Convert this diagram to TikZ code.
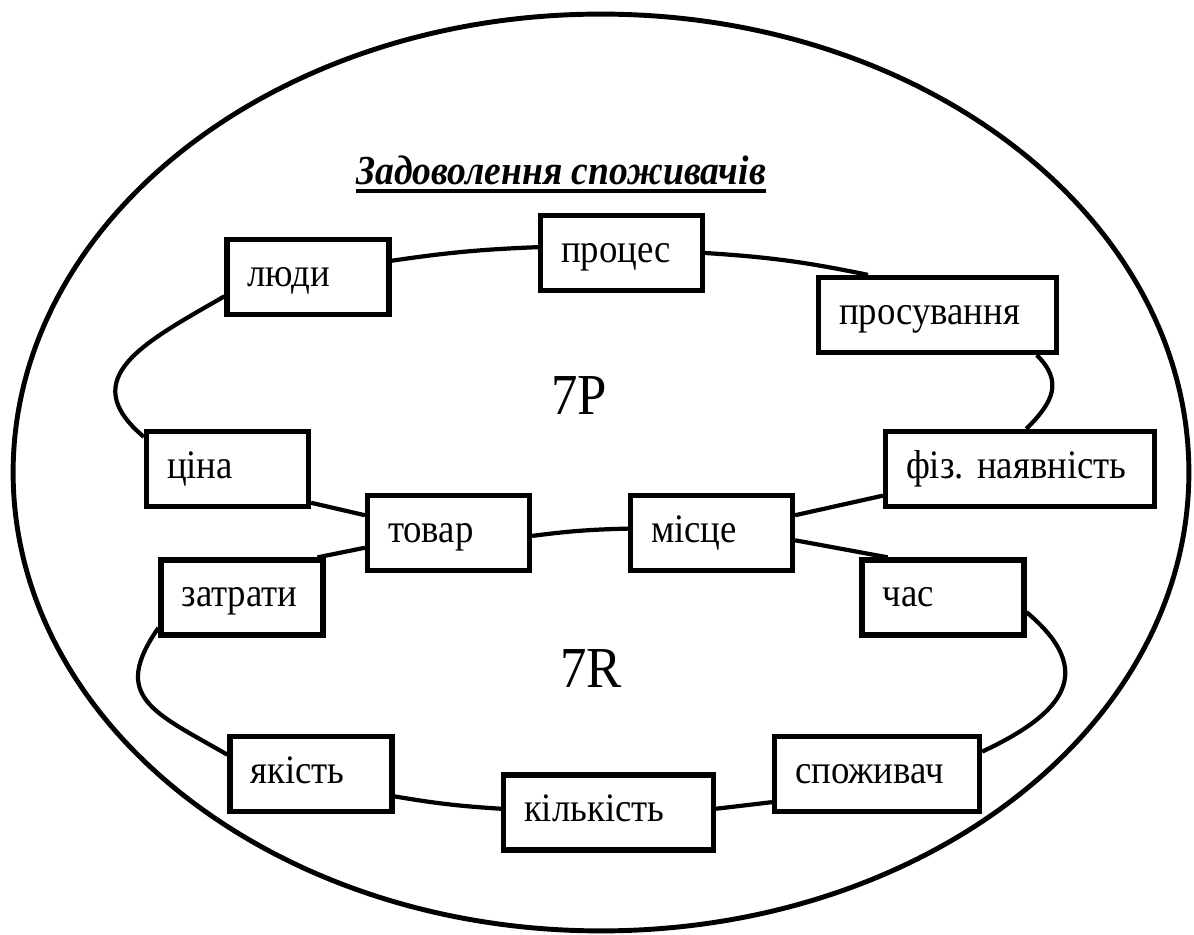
\documentclass[tikz,border=0pt]{standalone}
\usepackage{fontspec}
\setmainfont{Liberation Serif}[FakeStretch=0.91]
\begin{document}
\begin{tikzpicture}[x=0.02cm, y=-0.02cm,
        pbox/.style={draw, line width=3pt, inner xsep=0.41cm, inner ysep=0pt, minimum height=1.5cm,
            text width=2.42cm, align=left, text height=16pt, text depth=5.5pt,
            font=\fontsize{23}{27}\selectfont},
        link/.style={line width=2.4pt}]
        \useasboundingbox (0,0) rectangle (1194,935);
        \draw[line width=2.8pt] (601,472.5) ellipse (11.76cm and 9.17cm);
        \node[anchor=base, inner sep=0pt, font=\fontsize{23.5}{28}\selectfont\bfseries\itshape] (title) at (561,185) {Задоволення споживачів};
        \draw[line width=2.2pt] ([yshift=-0.12cm]title.base west) -- ([yshift=-0.12cm]title.base east);
        \node[anchor=base, font=\fontsize{33}{38}\selectfont] (sevenp) at (579,415) {7P};
        \node[anchor=base, font=\fontsize{33}{38}\selectfont] (sevenr) at (591,687) {7R};

        \node[pbox] (ludy) at (308,277) {люди};
        \node[pbox] (proces) at (621.5,253) {процес};
        \node[pbox, text width=3.94cm] (prosuv) at (937.5,315) {просування};
        \node[pbox, text width=4.56cm] (fiz) at (1020,469) {фіз.\ наявність};
        \node[pbox] (cina) at (227.5,469) {ціна};
        \node[pbox] (tovar) at (448.5,533) {товар};
        \node[pbox] (misce) at (711.5,533) {місце};
        \node[pbox] (zatraty) at (242,597.5) {затрати};
        \node[pbox] (chas) at (943,597.5) {час};
        \node[pbox] (yakist) at (311,774) {якість};
        \node[pbox, text width=3.38cm] (kilkist) at (608.5,812.5) {кількість};
        \node[pbox, text width=3.28cm] (spozh) at (877,774) {споживач};

        \draw[link] (ludy.11) to[bend left=3] (proces.176);
        \draw[link] (proces.east) to[bend left=4] (prosuv.150);
        \draw[link] (prosuv.-22) to[out=-45, in=45, looseness=1.3] (fiz.81);
        \draw[link] (fiz.191) -- (misce.12);
        \draw[link] (tovar.-2) to[bend left=3] (misce.177);
        \draw[link] (tovar.168) -- (cina.-22);
        \draw[link] (cina.159) to[out=140, in=210, looseness=1.45] (ludy.193);
        \draw[link] (misce.-5) -- (chas.144);
        \draw[link] (chas.-10) to[out=-40, in=25, looseness=1.6] (spozh.12);
        \draw[link] (spozh.195) -- (kilkist.2);
        \draw[link] (kilkist.178) to[bend left=3] (yakist.-15);
        \draw[link] (yakist.167) to[out=150, in=235, looseness=1.5] (zatraty.200);
        \draw[link] (zatraty.28) -- (tovar.190);
    \end{tikzpicture}
\end{document}
